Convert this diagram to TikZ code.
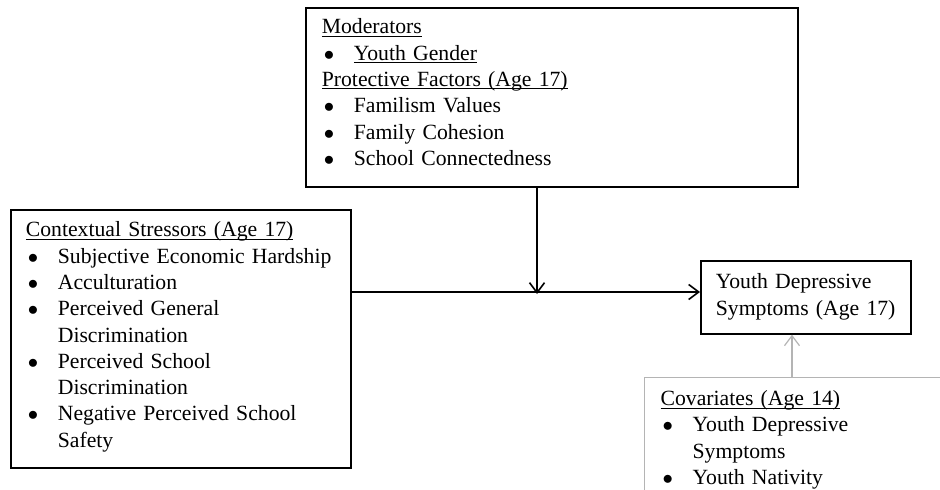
\documentclass[tikz,border=0pt]{standalone}
\usepackage{fontspec}
\setmainfont{Liberation Serif}
\usepackage{xcolor}
\usepackage{tikz}
\usetikzlibrary{arrows.meta,positioning,calc}
\definecolor{covgray}{HTML}{B4B4B4}
\newcommand{\bul}{\makebox[32pt][l]{\hspace{2pt}$\bullet$}}
\newcommand{\ind}{\hspace*{32pt}}
\newcommand{\undl}[1]{\leavevmode\setbox0\hbox{#1}\rlap{\rule[-3pt]{\wd0}{1pt}}\box0}

\begin{document}
\begin{tikzpicture}[
    x=1pt, y=-1pt,
    txt/.style={font=\fontsize{21.7}{26.3}\selectfont},
    box/.style={txt, draw, line width=1.7pt, anchor=north west, align=left, inner ysep=0pt},
    arr/.style={-{Straight Barb[length=10pt,width=15pt,line width=1.6pt]}, line width=1.7pt},
    grayarr/.style={-{Straight Barb[length=10pt,width=15pt,line width=1.2pt]}, line width=1.3pt, covgray},
]
    \useasboundingbox (0,0) rectangle (940,490);
    \clip (0,0) rectangle (940,490);

    % Moderators
    \node[box, inner xsep=16pt, text width=460pt, text height=26pt, text depth=153pt] (mods) at (305,7)
        {\undl{Moderators}\\
         \bul\undl{Youth Gender}\\
         \undl{Protective Factors (Age 17)}\\
         \bul Familism Values\\
         \bul Family Cohesion\\
         \bul School Connectedness};

    % Stressors
    \node[box, inner xsep=15pt, text width=310pt, text height=27pt, text depth=231pt] (stress) at (10,209)
        {\undl{Contextual Stressors (Age 17)}\\
         \bul Subjective Economic Hardship\\
         \bul Acculturation\\
         \bul Perceived General\\
         \ind Discrimination\\
         \bul Perceived School\\
         \ind Discrimination\\
         \bul Negative Perceived School\\
         \ind Safety};

    % Outcome
    \node[box, inner xsep=15pt, text width=180pt, text height=28pt, text depth=45pt] (yds) at (700,260)
        {Youth Depressive\\Symptoms (Age 17)};

    % Covariates
    \node[box, draw=covgray, line width=1.3pt, inner xsep=16pt, text width=330pt, text height=28pt, text depth=120pt] (cov) at (644,377)
        {\undl{Covariates (Age 14)}\\
         \bul Youth Depressive\\
         \ind Symptoms\\
         \bul Youth Nativity};

    % Arrows
    \coordinate (join) at (537,292);
    \coordinate (gx) at (792,355);
    \draw[arr] (stress.east |- join) -- (yds.west |- join);
    \draw[arr] (mods.south -| join) -- ([yshift=-2pt]join);
    \draw[grayarr] (cov.north -| gx) -- (yds.south -| gx);
\end{tikzpicture}
\end{document}
